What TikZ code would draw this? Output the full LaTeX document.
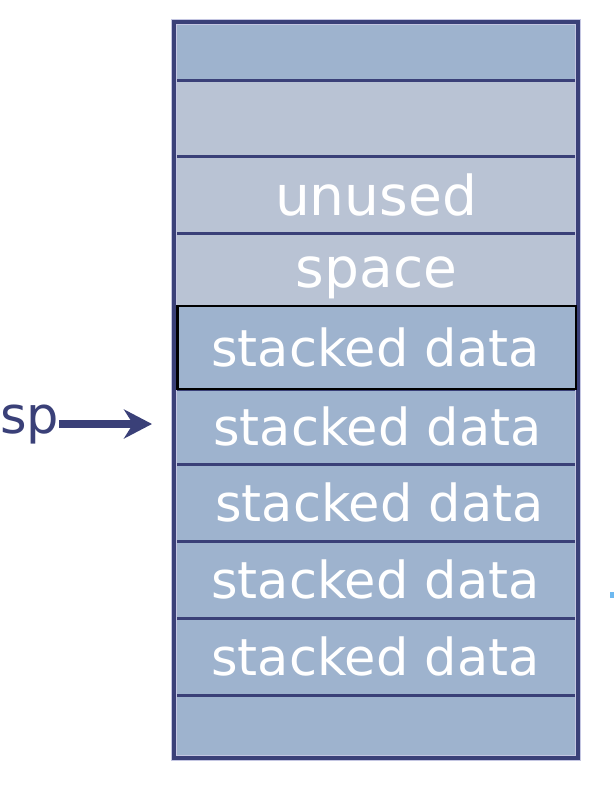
\documentclass[tikz,border=0pt]{standalone}
\usepackage{fontspec}
\setmainfont{DejaVu Sans}
\usetikzlibrary{arrows.meta}
\definecolor{cellblue}{RGB}{158,179,206}
\definecolor{cellgray}{RGB}{185,195,212}
\definecolor{navy}{RGB}{58,64,120}
\definecolor{halo}{RGB}{196,198,226}
\definecolor{markblue}{RGB}{110,185,240}
\begin{document}
\begin{tikzpicture}[x=1pt,y=-1pt,
  rowline/.style={draw=navy,line width=3pt},
  bigtext/.style={text=white,font=\fontsize{55}{55}\selectfont,inner sep=0pt},
  celltext/.style={text=white,font=\fontsize{51}{51}\selectfont,inner sep=0pt},
  sptext/.style={text=navy,font=\fontsize{51}{51}\selectfont,inner sep=0pt}]
\useasboundingbox (0,0) rectangle (614,788);
% cell fills
\fill[cellblue] (174,22) rectangle (578,80);
\fill[cellgray] (174,80) rectangle (578,306);
\fill[cellblue] (174,306) rectangle (578,758);
% row separators
\foreach \yy in {80,156,233,389,464,541,618,695}
  \draw[rowline] (174,\yy) -- (578,\yy);
% outer border
\draw[halo,line width=6pt] (174,22) rectangle (578,758);
\draw[navy,line width=3.5pt] (174,22) rectangle (578,758);
% highlighted row
\draw[black,line width=2.2pt] (177.5,306) rectangle (576,389);
% texts
\node[bigtext] (unused) at (376,194.5) {unused};
\node[bigtext,anchor=base] (space) at (376.5,287) {space};
\node[celltext] (d1) at (375.5,347.5) {stacked data};
\node[celltext] (d2) at (377.5,426.5) {stacked data};
\node[celltext] (d3) at (379.5,502.5) {stacked data};
\node[celltext] (d4) at (375.5,579.5) {stacked data};
\node[celltext] (d5) at (375.5,656.5) {stacked data};
% stack pointer
\node[sptext,anchor=base west] (sp) at (0,433) {sp};
\coordinate (tip) at (152,424);
\draw[navy,line width=8pt,-{Stealth[length=28pt,width=29pt,inset=9pt]}] (sp.east |- tip) -- (tip);
% small mark at right edge
\fill[markblue] (610,592) rectangle (614,598);
\end{tikzpicture}
\end{document}
